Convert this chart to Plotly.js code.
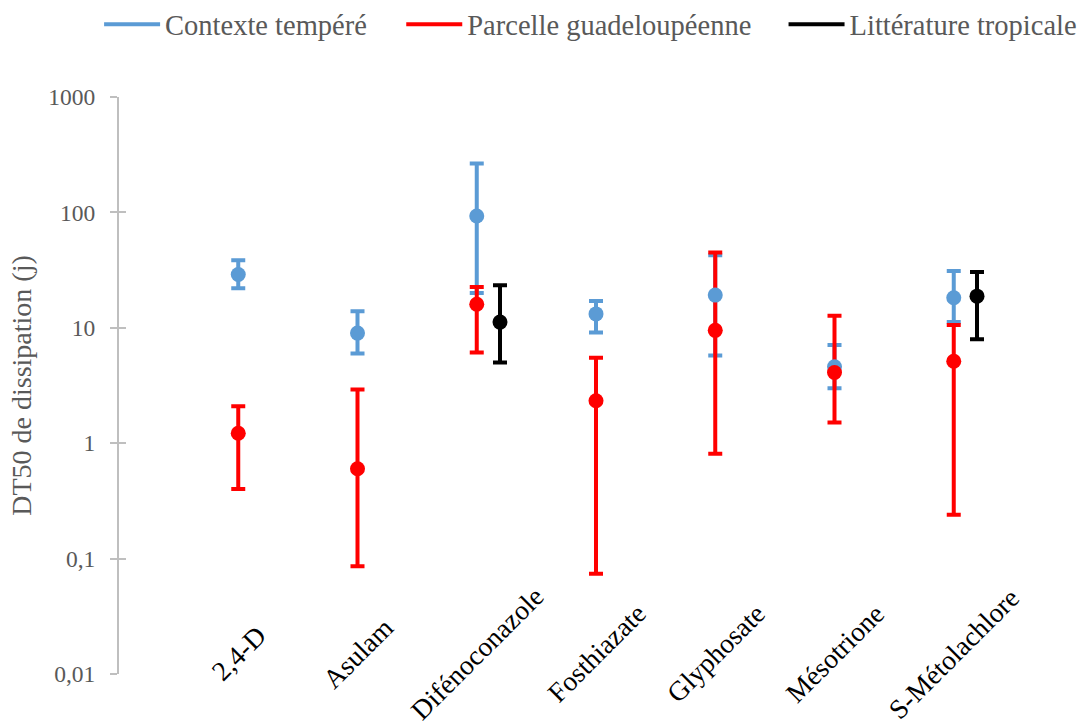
<!DOCTYPE html>
<html>
<head>
<meta charset="utf-8">
<script src="https://cdn.plot.ly/plotly-3.0.1.min.js"></script>
<style>html,body{margin:0;padding:0;background:#fff;}#chart{width:1083px;height:728px;}</style>
</head>
<body>
<div id="chart"></div>
<script>
const categories = ['2,4-D','Asulam','Difénoconazole','Fosthiazate','Glyphosate','Mésotrione','S-Métolachlore'];
const seriesNames = ['Contexte tempéré','Parcelle guadeloupéenne','Littérature tropicale'];

const tempere     = [29, 9.0, 93, 13.2, 19.2, 4.6, 18.2];
const tempereHigh = [38.5, 13.9, 265, 17.1, 42.6, 7.1, 31.1];
const tempereLow  = [22, 6.0, 20, 9.1, 5.75, 3.0, 11.2];

const guadeloupe  = [1.22, 0.60, 16, 2.33, 9.5, 4.1, 5.13];
const guadHigh    = [2.09, 2.92, 22.6, 5.5, 45, 12.7, 10.6];
const guadLow     = [0.40, 0.086, 6.1, 0.074, 0.81, 1.51, 0.24];

const tropCats    = ['Difénoconazole','S-Métolachlore'];
const tropical    = [11.2, 18.8];
const tropHigh    = [23.4, 30.5];
const tropLow     = [5.0, 7.96];

const yTickVals = [0.01, 0.1, 1, 10, 100, 1000];
const yTickText = ['0,01', '0,1', '1', '10', '100', '1000'];

const colors = ['#5B9BD5', '#FF0000', '#000000'];
const tropOffset = 0.195;
const FONT = 'Liberation Serif, Times New Roman, serif';
const legendIds = ['legend', 'legend2', 'legend3'];
const legendX = [0.0915, 0.3705, 0.7235];

const xIdx = categories.map((c, i) => i);
const xTrop = tropCats.map(c => categories.indexOf(c) + tropOffset);

function errs(v, hi, lo) {
  return {
    type: 'data', symmetric: false,
    array: v.map((d, i) => hi[i] - d),
    arrayminus: v.map((d, i) => d - lo[i]),
    thickness: 4, width: 7, visible: true
  };
}

const groups = [
  {x: xIdx, y: tempere, hi: tempereHigh, lo: tempereLow},
  {x: xIdx, y: guadeloupe, hi: guadHigh, lo: guadLow},
  {x: xTrop, y: tropical, hi: tropHigh, lo: tropLow}
];

const traces = [];
groups.forEach((g, k) => {
  const e = errs(g.y, g.hi, g.lo);
  e.color = colors[k];
  traces.push({
    type: 'scatter', mode: 'markers', x: g.x, y: g.y,
    marker: {size: 14, color: 'rgba(0,0,0,0)'},
    error_y: e, showlegend: false, hoverinfo: 'skip'
  });
});
groups.forEach((g, k) => {
  traces.push({
    type: 'scatter', mode: 'markers', x: g.x, y: g.y, name: seriesNames[k],
    marker: {size: 15, color: colors[k]}, showlegend: false
  });
});
seriesNames.forEach((n, k) => {
  traces.push({
    type: 'scatter', mode: 'lines', x: [null], y: [null], name: n,
    line: {color: colors[k], width: 4}, showlegend: true, legend: legendIds[k]
  });
});
traces.push({type: 'scatter', mode: 'markers', x: [null], y: [null], yaxis: 'y2', showlegend: false, hoverinfo: 'skip'});

const annotations = categories.map((c, i) => ({
  x: i, xref: 'x', y: 0.036, yref: 'paper',
  text: c, showarrow: false, textangle: -45,
  xanchor: 'center', yanchor: 'middle',
  font: {family: FONT, size: 27.5, color: '#000000'}
}));

function legendCfg(k) {
  return {
    orientation: 'h', xref: 'container', yref: 'container',
    x: legendX[k], xanchor: 'left', y: 0.966, yanchor: 'middle',
    font: {family: FONT, size: 28.5, color: '#595959'}, itemwidth: 56,
    bgcolor: 'rgba(0,0,0,0)', borderwidth: 0
  };
}

const layout = {
  width: 1083, height: 728,
  margin: {l: 119, r: 10, t: 97, b: 54, pad: 0},
  paper_bgcolor: '#ffffff', plot_bgcolor: '#ffffff',
  font: {family: FONT, color: '#595959'},
  showlegend: true,
  legend: legendCfg(0),
  legend2: legendCfg(1),
  legend3: legendCfg(2),
  xaxis: {
    range: [-1, 7], showgrid: false, zeroline: false, showline: false,
    showticklabels: false, ticks: '', fixedrange: true
  },
  yaxis: {
    type: 'log', range: [-2, 3], showgrid: false, zeroline: false,
    showline: true, linecolor: '#BFBFBF', linewidth: 2,
    ticks: 'outside', ticklen: 7, tickwidth: 2, tickcolor: '#BFBFBF',
    ticklabelstandoff: 10,
    tickvals: yTickVals, ticktext: yTickText,
    tickfont: {family: FONT, size: 23.5, color: '#595959'},
    title: {text: 'DT50 de dissipation (j)', font: {family: FONT, size: 28, color: '#595959'}, standoff: 8},
    automargin: false
  },
  yaxis2: {
    type: 'log', range: [-2, 3], overlaying: 'y', side: 'left',
    showgrid: false, zeroline: false, showline: false, showticklabels: false,
    ticks: 'inside', ticklen: 7, tickwidth: 2, tickcolor: '#BFBFBF',
    tickvals: yTickVals
  },
  annotations: annotations
};

Plotly.newPlot('chart', traces, layout, {displayModeBar: false, staticPlot: true});
</script>
</body>
</html>
